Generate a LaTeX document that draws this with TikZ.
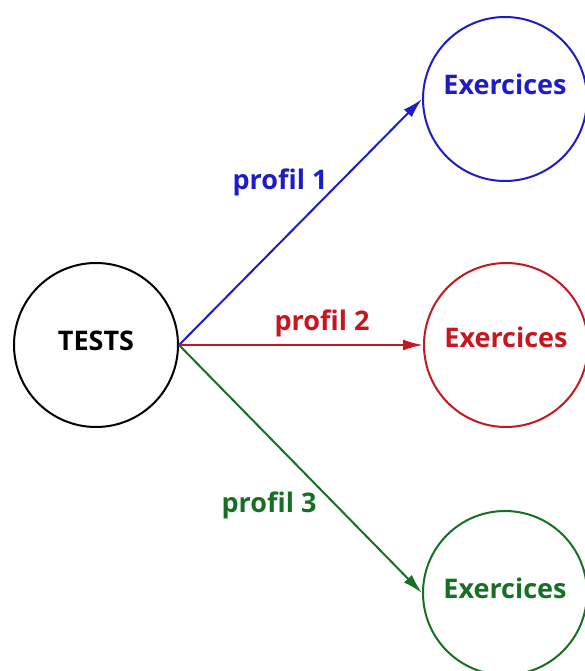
\documentclass[tikz,border=0pt]{standalone}
\usepackage{fontspec}
\setmainfont{Open Sans}
\usetikzlibrary{arrows.meta}
\definecolor{profblue}{RGB}{28,28,200}
\definecolor{profred}{RGB}{200,22,32}
\definecolor{profgreen}{RGB}{22,112,36}
\tikzset{
  ring/.style={circle, draw, line width=2pt, minimum size=164pt, inner sep=0pt,
    text depth=15pt, font=\fontsize{27}{30}\selectfont\bfseries},
  link/.style={line width=2pt, -{Latex[length=20pt,width=11pt]}},
  tag/.style={font=\fontsize{27}{30}\selectfont\bfseries}
}
\begin{document}
\begin{tikzpicture}[x=1pt, y=-1pt]
\useasboundingbox (0,0) rectangle (585,671);
\node[ring, black, text depth=9pt] (tests) at (96,345) {TESTS};
\node[ring, profblue, text depth=29pt] (ex1) at (505,99) {Exercices};
\node[ring, profred] (ex2) at (506,345) {Exercices};
\node[ring, profgreen, text depth=9pt] (ex3) at (505,593) {Exercices};
\draw[link, profblue] (tests.east) -- (ex1.west);
\draw[link, profred] (tests.east) -- (ex2.west);
\draw[link, profgreen] (tests.east) -- (ex3.west);
\node[tag, profblue] (tag1) at (280,182) {profil 1};
\node[tag, profred] (tag2) at (322,323) {profil 2};
\node[tag, profgreen] (tag3) at (269,505) {profil 3};
\end{tikzpicture}
\end{document}
